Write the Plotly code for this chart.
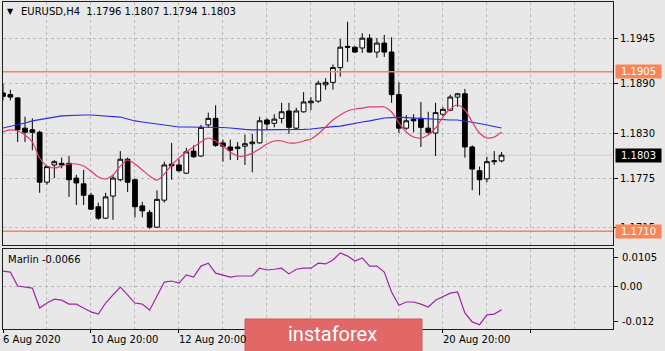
import plotly.graph_objects as go

# ---------------- data (EURUSD H4, bar index 0 = 6 Aug 2020 20:00) ----------------
opens = [1.1879, 1.1877, 1.1873, 1.1836, 1.1834, 1.1831, 1.1770, 1.1791, 1.1793, 1.1793,
         1.1775, 1.1768, 1.1754, 1.1740, 1.1726, 1.1753, 1.1773, 1.1798, 1.1773, 1.1741,
         1.1733, 1.1715, 1.1748, 1.1792, 1.1791, 1.1781, 1.1808, 1.1802, 1.1840, 1.1848,
         1.1818, 1.1813, 1.1811, 1.1814, 1.1817, 1.1818, 1.1846, 1.1842, 1.1848, 1.1857,
         1.1836, 1.1856, 1.1867, 1.1869, 1.1889, 1.1892, 1.1910, 1.1936, 1.1935, 1.1934,
         1.1946, 1.1929, 1.1940, 1.1929, 1.1877, 1.1836, 1.1847, 1.1848, 1.1836, 1.1830,
         1.1853, 1.1858, 1.1874, 1.1878, 1.1813, 1.1784, 1.1774, 1.1795, 1.1796]
highs = [1.1890, 1.1883, 1.1874, 1.1850, 1.1848, 1.1833, 1.1790, 1.1797, 1.1800, 1.1802,
         1.1779, 1.1785, 1.1757, 1.1745, 1.1757, 1.1779, 1.1808, 1.1800, 1.1774, 1.1746,
         1.1736, 1.1760, 1.1795, 1.1818, 1.1798, 1.1812, 1.1815, 1.1840, 1.1855, 1.1864,
         1.1822, 1.1822, 1.1819, 1.1828, 1.1829, 1.1850, 1.1848, 1.1853, 1.1867, 1.1867,
         1.1861, 1.1880, 1.1874, 1.1894, 1.1897, 1.1914, 1.1945, 1.1966, 1.1936, 1.1952,
         1.1951, 1.1946, 1.1950, 1.1947, 1.1892, 1.1852, 1.1853, 1.1868, 1.1856, 1.1867,
         1.1862, 1.1877, 1.1879, 1.1884, 1.1815, 1.1789, 1.1801, 1.1808, 1.1807]
lows = [1.1870, 1.1870, 1.1819, 1.1819, 1.1809, 1.1757, 1.1767, 1.1775, 1.1787, 1.1752,
        1.1742, 1.1742, 1.1736, 1.1724, 1.1725, 1.1724, 1.1771, 1.1758, 1.1727, 1.1727,
        1.1713, 1.1714, 1.1745, 1.1773, 1.1782, 1.1780, 1.1800, 1.1801, 1.1837, 1.1813,
        1.1795, 1.1797, 1.1797, 1.1791, 1.1782, 1.1817, 1.1834, 1.1837, 1.1842, 1.1829,
        1.1834, 1.1855, 1.1858, 1.1867, 1.1883, 1.1883, 1.1899, 1.1917, 1.1928, 1.1928,
        1.1928, 1.1922, 1.1923, 1.1867, 1.1830, 1.1834, 1.1831, 1.1813, 1.1828, 1.1802,
        1.1851, 1.1857, 1.1862, 1.1800, 1.1760, 1.1754, 1.1770, 1.1791, 1.1794]
closes = [1.1875, 1.1874, 1.1834, 1.1831, 1.1831, 1.1770, 1.1789, 1.1795, 1.1791, 1.1773,
          1.1769, 1.1754, 1.1737, 1.1726, 1.1752, 1.1775, 1.1798, 1.1770, 1.1740, 1.1735,
          1.1715, 1.1749, 1.1791, 1.1790, 1.1784, 1.1807, 1.1801, 1.1837, 1.1848, 1.1815,
          1.1814, 1.1809, 1.1813, 1.1817, 1.1819, 1.1845, 1.1841, 1.1847, 1.1856, 1.1837,
          1.1857, 1.1868, 1.1869, 1.1891, 1.1892, 1.1910, 1.1935, 1.1935, 1.1929, 1.1946,
          1.1929, 1.1940, 1.1929, 1.1877, 1.1836, 1.1845, 1.1845, 1.1837, 1.1831, 1.1855,
          1.1859, 1.1874, 1.1878, 1.1813, 1.1786, 1.1773, 1.1795, 1.1796, 1.1803]
ma_blue = [1.18362, 1.18380, 1.18399, 1.18423, 1.18448, 1.18466, 1.18484, 1.18496, 1.18509, 1.18515,
           1.18521, 1.18521, 1.18521, 1.18515, 1.18509, 1.18503, 1.18496, 1.18472, 1.18448, 1.18435,
           1.18423, 1.18411, 1.18399, 1.18386, 1.18374, 1.18374, 1.18374, 1.18374, 1.18374, 1.18374,
           1.18368, 1.18362, 1.18350, 1.18344, 1.18338, 1.18338, 1.18338, 1.18338, 1.18338, 1.18338,
           1.18338, 1.18344, 1.18350, 1.18362, 1.18374, 1.18380, 1.18386, 1.18405, 1.18423, 1.18435,
           1.18448, 1.18466, 1.18484, 1.18490, 1.18496, 1.18490, 1.18484, 1.18478, 1.18472, 1.18466,
           1.18460, 1.18460, 1.18460, 1.18448, 1.18435, 1.18417, 1.18399, 1.18380, 1.18362]
ma_red = [1.18313, 1.18338, 1.18325, 1.18276, 1.18191, 1.17995, 1.17897, 1.17873, 1.17897, 1.17922,
          1.17922, 1.17897, 1.17836, 1.17763, 1.17739, 1.17787, 1.17897, 1.17971, 1.17922, 1.17849,
          1.17775, 1.17726, 1.17800, 1.17910, 1.17995, 1.18069, 1.18130, 1.18191, 1.18240, 1.18203,
          1.18142, 1.18069, 1.18020, 1.18020, 1.18056, 1.18105, 1.18166, 1.18203, 1.18203, 1.18179,
          1.18179, 1.18203, 1.18228, 1.18289, 1.18374, 1.18460, 1.18521, 1.18570, 1.18594, 1.18606,
          1.18619, 1.18619, 1.18619, 1.18558, 1.18423, 1.18313, 1.18252, 1.18240, 1.18276, 1.18362,
          1.18496, 1.18594, 1.18643, 1.18582, 1.18435, 1.18301, 1.18240, 1.18252, 1.18313]
marlin = [0.0043, 0.0040, 0.0001, -0.0002, -0.0005, -0.0061, -0.0047, -0.0036, -0.0039, -0.0050,
          -0.0050, -0.0061, -0.0072, -0.0078, -0.0047, -0.0024, -0.0002, -0.0024, -0.0047, -0.0050,
          -0.0067, -0.0027, 0.0012, 0.0015, 0.0009, 0.0032, 0.0026, 0.0057, 0.0065, 0.0037,
          0.0032, 0.0026, 0.0029, 0.0029, 0.0029, 0.0051, 0.0046, 0.0048, 0.0051, 0.0035,
          0.0048, 0.0051, 0.0051, 0.0065, 0.0063, 0.0074, 0.0094, 0.0085, 0.0071, 0.0080,
          0.0057, 0.0057, 0.0040, -0.0016, -0.0053, -0.0044, -0.0044, -0.0050, -0.0058, -0.0039,
          -0.0030, -0.0019, -0.0016, -0.0075, -0.0100, -0.0108, -0.0080, -0.0078, -0.0066]

bars = list(range(len(closes)))
date_ticks = [0, 12, 24, 60]
date_labels = ["6 Aug 2020", "10 Aug 20:00", "12 Aug 20:00", "20 Aug 20:00"]
price_ticks = [1.1945, 1.1890, 1.1830, 1.1775, 1.1715]
level_high = 1.1905
level_low = 1.1710
bid = closes[-1]
marlin_top, marlin_bottom = 0.0105, -0.012

# ---------------- styling ----------------
BG = "#e8e8e8"
GRID = "#b9b9b9"
FONT = "DejaVu Sans"
SALMON = "#fb8456"
W, H = 665, 351
xd = [3 / W, 613 / W]
main_dom = [1 - 245 / H, 1 - 2 / H]
sub_dom = [1 - 329 / H, 1 - 249 / H]
xrange_ = [0, 83.2]

fig = go.Figure()
fig.add_trace(go.Candlestick(
    x=bars, open=opens, high=highs, low=lows, close=closes,
    increasing=dict(fillcolor="#ffffff", line=dict(color="#000000", width=1)),
    decreasing=dict(fillcolor="#000000", line=dict(color="#000000", width=1)),
    whiskerwidth=0, xaxis="x", yaxis="y", showlegend=False, hoverinfo="skip"))
fig.add_trace(go.Scatter(x=bars, y=ma_blue, mode="lines", line=dict(color="#2b2bf0", width=1.2),
                         xaxis="x", yaxis="y", showlegend=False, hoverinfo="skip"))
fig.add_trace(go.Scatter(x=bars, y=ma_red, mode="lines", line=dict(color="#e23d66", width=1.2, shape="spline"),
                         xaxis="x", yaxis="y", showlegend=False, hoverinfo="skip"))
fig.add_trace(go.Scatter(x=bars, y=marlin, mode="lines", line=dict(color="#a024a8", width=1.2),
                         xaxis="x2", yaxis="y2", showlegend=False, hoverinfo="skip"))

axis_common = dict(showline=True, mirror=True, linecolor="#1e1e1e", linewidth=1, zeroline=False)

fig.update_layout(
    width=W, height=H, margin=dict(l=0, r=0, t=0, b=0),
    paper_bgcolor=BG, plot_bgcolor=BG, boxgap=0.2, boxgroupgap=0.2,
    font=dict(family=FONT, size=10, color="#000000"),
    xaxis=dict(domain=xd, range=xrange_, anchor="y", tickmode="linear", tick0=0, dtick=6,
               showticklabels=False, ticks="", showgrid=True, gridcolor=GRID, griddash="3px,3px",
               rangeslider=dict(visible=False), **axis_common),
    yaxis=dict(domain=main_dom, range=[1.16932, 1.19902], anchor="x", side="right",
               tickmode="array", tickvals=price_ticks, ticktext=[f"{v:.4f}" for v in price_ticks],
               ticks="outside", ticklen=4, tickcolor="#000", showgrid=True, gridcolor=GRID,
               griddash="3px,3px", tickfont=dict(family=FONT, size=10, color="#000"), **axis_common),
    xaxis2=dict(domain=xd, range=xrange_, anchor="y2", tickmode="array",
                tickvals=[0, 12, 24, 36, 48, 60, 72], showticklabels=False, ticks="outside",
                ticklen=3, tickcolor="#000", showgrid=True, gridcolor=GRID, griddash="3px,3px",
                minor=dict(tickmode="linear", tick0=0, dtick=6, showgrid=True, gridcolor=GRID,
                           griddash="3px,3px", ticks=""),
                **axis_common),
    yaxis2=dict(domain=sub_dom, range=[marlin_bottom, marlin_top], anchor="x2", side="right",
                tickmode="array", tickvals=[0], ticktext=["0.00"], ticks="outside", ticklen=4,
                tickcolor="#000", showgrid=True, gridcolor=GRID, griddash="3px,3px",
                minor=dict(tickvals=[0.00824, -0.00976], ticks="outside", ticklen=4,
                           tickcolor="#000", showgrid=False),
                tickfont=dict(family=FONT, size=10, color="#000"), **axis_common),
)

# horizontal levels
fig.add_shape(type="line", xref="x domain", yref="y", x0=0, x1=1, y0=bid, y1=bid,
              line=dict(color="#cdcdcd", width=1), layer="below")
for lvl in (level_high, level_low):
    fig.add_shape(type="line", xref="x domain", yref="y", x0=0, x1=1, y0=lvl, y1=lvl,
                  line=dict(color=SALMON, width=1.4), layer="above")

# price label boxes on the right
for val, col in ((level_high, SALMON), (bid, "#000000"), (level_low, SALMON)):
    fig.add_annotation(xref="paper", yref="y", x=615 / W, y=val, xanchor="left", yanchor="middle",
                       text=f"{val:.4f}", showarrow=False, bgcolor=col, width=43, height=11,
                       borderpad=1, font=dict(family=FONT, size=10, color="#ffffff"))

# Marlin scale labels (top / bottom of window)
fig.add_annotation(xref="paper", yref="y2 domain", x=620 / W, y=1 - 8 / 80, xanchor="left",
                   yanchor="middle", text=f"{marlin_top}", showarrow=False,
                   font=dict(family=FONT, size=10, color="#000"))
fig.add_annotation(xref="paper", yref="y2 domain", x=620 / W, y=8 / 80, xanchor="left",
                   yanchor="middle", text=f"{marlin_bottom}", showarrow=False,
                   font=dict(family=FONT, size=10, color="#000"))

# header texts
fig.add_annotation(xref="paper", yref="paper", x=10 / W, y=1 - 11.5 / H, xanchor="center",
                   yanchor="middle", text="▼", showarrow=False, font=dict(family=FONT, size=8, color="#000"))
fig.add_annotation(xref="paper", yref="paper", x=19 / W, y=1 - 12 / H, xanchor="left",
                   yanchor="middle",
                   text=f"EURUSD,H4\u00a0\u00a0{opens[-1]:.4f}\u00a0{highs[-1]:.4f}\u00a0{lows[-1]:.4f}\u00a0{closes[-1]:.4f}",
                   showarrow=False, font=dict(family=FONT, size=10, color="#000"))
fig.add_annotation(xref="paper", yref="paper", x=6 / W, y=1 - 259 / H, xanchor="left",
                   yanchor="middle", text=f"Marlin {marlin[-1]:.4f}", showarrow=False,
                   font=dict(family=FONT, size=10, color="#000"))

# date labels
for t, lab in zip(date_ticks, date_labels):
    fig.add_annotation(xref="x2", yref="paper", x=t, y=1 - 339 / H, xanchor="left",
                       yanchor="middle", text=lab, showarrow=False, xshift=-2,
                       font=dict(family=FONT, size=10, color="#000"))

# instaforex watermark
fig.add_shape(type="rect", xref="paper", yref="paper", x0=245 / W, x1=422 / W, y0=-0.02, y1=1 - 319 / H,
              fillcolor="#e26868", line=dict(color="#d45a5a", width=1), layer="above")
fig.add_annotation(xref="paper", yref="paper", x=332 / W, y=1 - 334 / H, xanchor="center",
                   yanchor="middle", text="instaforex", showarrow=False,
                   font=dict(family="Roboto", size=20, color="#ffffff"))

fig.write_html("out.html")
